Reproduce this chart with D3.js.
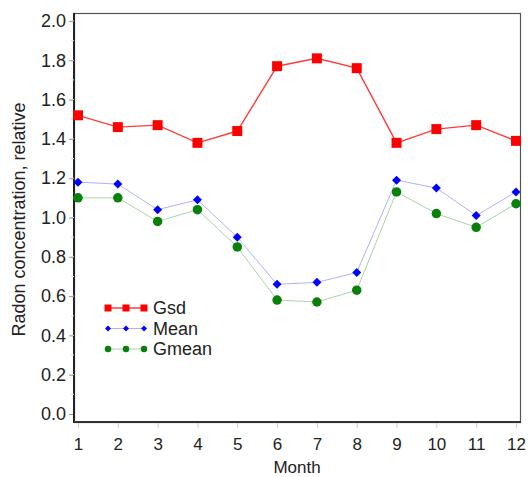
<!DOCTYPE html>
<html>
<head>
  <meta charset="utf-8">
  <title>Radon concentration by month</title>
  <script src="https://d3js.org/d3.v7.min.js"></script>
  <style>
    body { margin: 0; background: #fff; }
    text { font-family: "Liberation Sans", Arial, sans-serif; fill: #222; }
  </style>
</head>
<body>
  <script>
  // data
  var months = [1, 2, 3, 4, 5, 6, 7, 8, 9, 10, 11, 12];
  var gsd   = [1.52, 1.46, 1.47, 1.38, 1.44, 1.77, 1.81, 1.76, 1.38, 1.45, 1.47, 1.39];
  var mean  = [1.18, 1.17, 1.04, 1.09, 0.90, 0.66, 0.67, 0.72, 1.19, 1.15, 1.01, 1.13];
  var gmean = [1.10, 1.10, 0.98, 1.04, 0.85, 0.58, 0.57, 0.63, 1.13, 1.02, 0.95, 1.07];
  var yTicks = [0, 0.2, 0.4, 0.6, 0.8, 1.0, 1.2, 1.4, 1.6, 1.8, 2.0];

  var width = 528, height = 477;
  // plot frame edges (not "top": that name is taken by window.top)
  var frameL = 74, frameR = 520, frameT = 13, frameB = 422;
  var fs = "18px", fsx = "17px";

  var svg = d3.select("body").append("svg").attr("width", width).attr("height", height);

  var x = d3.scaleLinear().domain([1, 12]).range([78, 516]);
  var y = d3.scaleLinear().domain([0, 2]).range([414, 21]);

  // frame: top and right lighter
  svg.append("rect")
    .attr("x", frameL + 0.5).attr("y", frameT + 0.5)
    .attr("width", frameR - frameL).attr("height", frameB - frameT)
    .attr("fill", "none").attr("stroke", "#555").attr("stroke-width", 1.2);
  svg.append("line").attr("x1", frameL).attr("x2", frameL).attr("y1", frameT).attr("y2", frameB + 1)
    .attr("stroke", "#222").attr("stroke-width", 2);
  svg.append("line").attr("x1", frameL).attr("x2", frameR + 1).attr("y1", frameB).attr("y2", frameB)
    .attr("stroke", "#333").attr("stroke-width", 2);

  // minor y ticks
  svg.append("g").selectAll("line")
    .data(d3.range(0, 20).map(function(i) { return i * 0.1 + 0.1; }))
    .enter().append("line")
    .attr("x1", frameL - 3).attr("x2", frameL)
    .attr("y1", function(d) { return y(d); }).attr("y2", function(d) { return y(d); })
    .attr("stroke", "#ddd");

  // y axis
  var yAxis = d3.axisLeft(y).tickValues(yTicks).tickFormat(d3.format(".1f")).tickSize(4).tickPadding(3);
  var gy = svg.append("g").attr("transform", "translate(" + (frameL - 1) + ",0)").call(yAxis);
  gy.select(".domain").remove();
  gy.selectAll(".tick line").attr("stroke", "#999");
  gy.selectAll(".tick text").style("font-size", fs).attr("fill", "#222");

  // x axis
  var xAxis = d3.axisBottom(x).tickValues(months).tickSize(5).tickPadding(10);
  var gx = svg.append("g").attr("transform", "translate(0," + (frameB + 1) + ")").call(xAxis);
  gx.select(".domain").remove();
  gx.selectAll(".tick line").attr("stroke", "#ccc");
  gx.selectAll(".tick text").style("font-size", fsx).attr("fill", "#222");

  // axis titles
  svg.append("text")
    .attr("x", x(6.5)).attr("y", 473)
    .attr("text-anchor", "middle")
    .style("font-size", fsx)
    .text("Month");
  svg.append("text")
    .attr("transform", "translate(25," + (y(1) + 2) + ") rotate(-90)")
    .attr("text-anchor", "middle")
    .style("font-size", fs)
    .text("Radon concentration, relative");

  var series = [
    { name: "Gsd", values: gsd, line: "#ff3b3b", lw: 1.4, fill: "#ff0000", shape: "square" },
    { name: "Mean", values: mean, line: "#b0b0ff", lw: 1, fill: "#0000ff", shape: "diamond" },
    { name: "Gmean", values: gmean, line: "#a8d4a8", lw: 1, fill: "#0a800a", shape: "circle" }
  ];

  // marker shapes, size = width across in px
  function marker(shape, s) {
    var h = s / 2;
    if (shape === "square") return "M" + -h + "," + -h + "h" + s + "v" + s + "h" + -s + "Z";
    if (shape === "diamond") return "M0," + -h + "L" + h + ",0L0," + h + "L" + -h + ",0Z";
    return d3.symbol().type(d3.symbolCircle).size(Math.PI * h * h)();
  }
  var chartSize = { square: 10, diamond: 9, circle: 9.5 };
  var legendSize = { square: 7, diamond: 6, circle: 6.5 };

  var line = d3.line()
    .x(function(d, i) { return x(months[i]); })
    .y(function(d) { return y(d); });

  series.forEach(function(s) {
    svg.append("path")
      .datum(s.values)
      .attr("d", line)
      .attr("fill", "none")
      .attr("stroke", s.line)
      .attr("stroke-width", s.lw);
    svg.append("g").selectAll("path")
      .data(s.values)
      .enter().append("path")
      .attr("d", marker(s.shape, chartSize[s.shape]))
      .attr("transform", function(d, i) { return "translate(" + x(months[i]) + "," + y(d) + ")"; })
      .attr("fill", s.fill);
  });

  // legend
  var legend = svg.append("g").attr("transform", "translate(108,308)");
  series.forEach(function(s, k) {
    var row = legend.append("g").attr("transform", "translate(0," + (k * 20.5) + ")");
    row.append("line").attr("x1", 0).attr("x2", 36).attr("y1", 0).attr("y2", 0)
      .attr("stroke", s.line).attr("stroke-width", s.lw);
    [0, 18, 36].forEach(function(dx) {
      row.append("path")
        .attr("d", marker(s.shape, legendSize[s.shape]))
        .attr("transform", "translate(" + dx + ",0)")
        .attr("fill", s.fill);
    });
    row.append("text")
      .attr("x", 45).attr("y", 0).attr("dy", "0.36em")
      .style("font-size", fs)
      .text(s.name);
  });
  </script>
</body>
</html>
